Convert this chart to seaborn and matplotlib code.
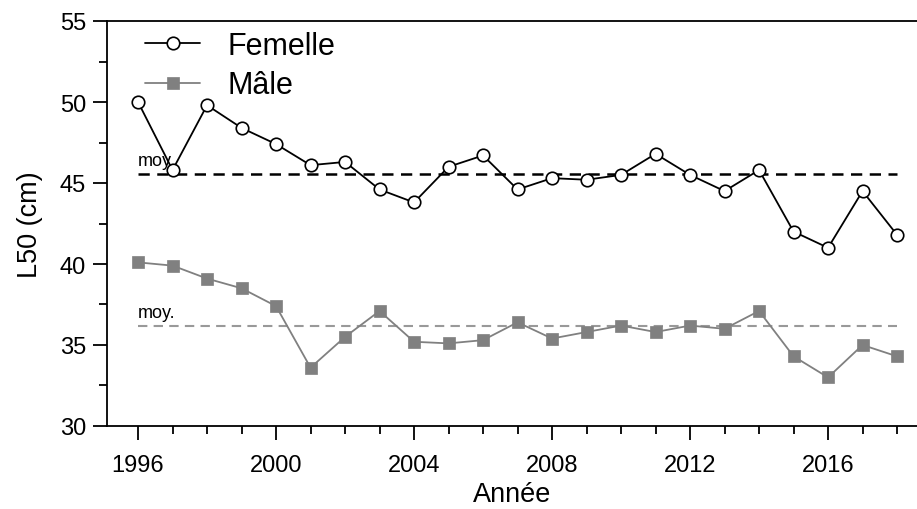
import numpy as np
import pandas as pd
import matplotlib
matplotlib.use("Agg")
import matplotlib.pyplot as plt
import seaborn as sns

# Annual L50 estimates by sex
years = list(range(1996, 2019))
femelle = [50.0, 45.8, 49.8, 48.4, 47.4, 46.1, 46.3, 44.6, 43.8, 46.0, 46.7, 44.6,
           45.3, 45.2, 45.5, 46.8, 45.5, 44.5, 45.8, 42.0, 41.0, 44.5, 41.8]
male = [40.1, 39.9, 39.1, 38.5, 37.4, 33.6, 35.5, 37.1, 35.2, 35.1, 35.3, 36.4,
        35.4, 35.8, 36.2, 35.8, 36.2, 36.0, 37.1, 34.3, 33.0, 35.0, 34.3]
series_labels = ["Femelle", "Mâle"]
mean_label = "moy."
x_ticks = [1996, 2000, 2004, 2008, 2012, 2016]
y_ticks = [30, 35, 40, 45, 50, 55]

sns.set_theme(style="white")
plt.rcParams["font.family"] = ["Liberation Sans", "DejaVu Sans"]
plt.rcParams.update({"text.color": "black", "axes.labelcolor": "black",
                     "xtick.color": "black", "ytick.color": "black"})

fig = plt.figure(figsize=(9.17, 5.10), dpi=100)
ax = fig.add_axes([107 / 917, 83 / 510, 810 / 917, 405 / 510])

df_f = pd.DataFrame({"Année": years, "L50": femelle})
df_m = pd.DataFrame({"Année": years, "L50": male})

sns.lineplot(data=df_f, x="Année", y="L50", ax=ax, color="black", lw=1.3,
             marker="o", markersize=9, markerfacecolor="white",
             markeredgecolor="black", markeredgewidth=1.2,
             label=series_labels[0], zorder=3)
sns.lineplot(data=df_m, x="Année", y="L50", ax=ax, color="#808080", lw=1.3,
             marker="s", markersize=8.5, markerfacecolor="#808080",
             markeredgecolor="#808080", markeredgewidth=0.5,
             label=series_labels[1], zorder=3)

# Period means as dashed reference lines
mean_f = float(np.mean(femelle))
mean_m = float(np.mean(male))
ax.plot([years[0], years[-1]], [mean_f, mean_f], ls=(0, (4.5, 3)), lw=1.8,
        color="black", zorder=2)
ax.plot([years[0], years[-1]], [mean_m, mean_m], ls=(0, (4.5, 3)), lw=1.5,
        color="#999999", zorder=2)
ax.text(years[0], mean_f + 0.3, mean_label, fontsize=13, ha="left",
        va="bottom", color="black", zorder=1)
ax.text(years[0], mean_m + 0.3, mean_label, fontsize=13, ha="left",
        va="bottom", color="black", zorder=1)

ax.set_xlim(1995.1, 1995.1 + 810 / 34.5)
ax.set_ylim(30, 55)
ax.set_xticks(x_ticks)
ax.set_xticks(years, minor=True)
ax.set_yticks(y_ticks)
ax.set_yticks(np.arange(32.5, 55, 5), minor=True)

for side in ["left", "top", "bottom"]:
    ax.spines[side].set_visible(True)
    ax.spines[side].set_color("black")
    ax.spines[side].set_linewidth(1.3)
ax.spines["right"].set_visible(False)

ax.tick_params(axis="both", which="major", direction="out", length=10,
               width=1.3, color="black", labelsize=17, pad=5,
               bottom=True, left=True)
ax.tick_params(axis="both", which="minor", direction="out", length=6,
               width=1.3, color="black", bottom=True, left=True)
ax.tick_params(axis="x", which="major", pad=10)

ax.set_xlabel("Année", fontsize=19.5, labelpad=4)
ax.set_ylabel("L50 (cm)", fontsize=19.5, labelpad=12)
ax.grid(False)

ax.legend(loc="upper left", bbox_to_anchor=(38 / 810, 0.975), frameon=False,
          fontsize=22, handlelength=1.8, handletextpad=0.9,
          labelspacing=0.3, borderpad=0, borderaxespad=0)

fig.savefig("out.png", dpi=100)
